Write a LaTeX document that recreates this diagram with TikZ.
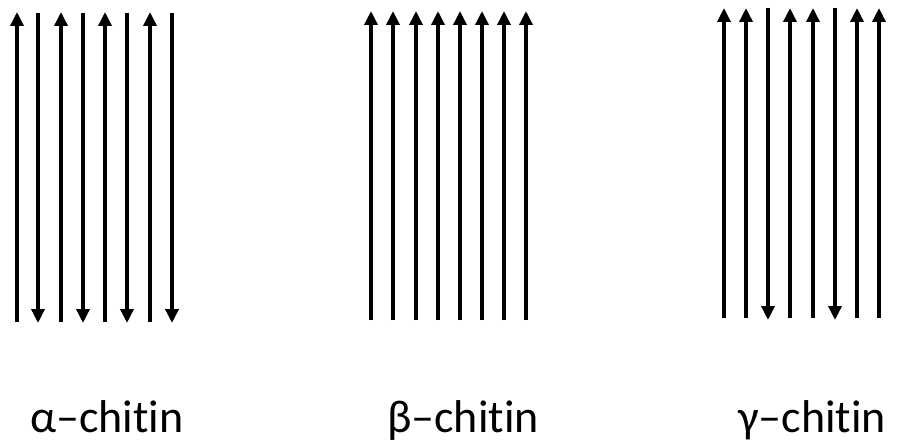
\documentclass[tikz,border=0pt]{standalone}
\usepackage{fontspec}
\setmainfont{Carlito}[Ligatures={NoCommon}]
\usetikzlibrary{arrows.meta}
\begin{document}
\begin{tikzpicture}[x=1pt,y=-1pt,
  chain/.style={line width=3.4pt},
  upchain/.style={chain,-{Triangle[length=14pt,width=13pt]}},
  downchain/.style={chain,-{Triangle[length=14pt,width=13pt]}},
  lbl/.style={font=\fontsize{46}{46}\selectfont, inner sep=0pt, anchor=base}]
\useasboundingbox (0,0) rectangle (899,446);
% alpha-chitin
\foreach \x [count=\i] in {17,61,105,150} {
  \coordinate (au\i b) at (\x,322); \coordinate (au\i t) at (\x,12);
  \draw[upchain] (au\i b) -- (au\i t);
}
\foreach \x [count=\i] in {38,83,127,172} {
  \coordinate (ad\i t) at (\x,13); \coordinate (ad\i b) at (\x,323);
  \draw[downchain] (ad\i t) -- (ad\i b);
}
% beta-chitin
\foreach \x [count=\i] in {371,393,416,438,460,482,504,526} {
  \coordinate (bu\i b) at (\x,320); \coordinate (bu\i t) at (\x,11);
  \draw[upchain] (bu\i b) -- (bu\i t);
}
% gamma-chitin
\foreach \x [count=\i] in {724,746,790,813,857,879} {
  \coordinate (gu\i b) at (\x,318); \coordinate (gu\i t) at (\x,8);
  \draw[upchain] (gu\i b) -- (gu\i t);
}
\foreach \x [count=\i] in {768,835} {
  \coordinate (gd\i t) at (\x,8); \coordinate (gd\i b) at (\x,320);
  \draw[downchain] (gd\i t) -- (gd\i b);
}
\node[lbl] (la) at (107,432) {α–chitin};
\node[lbl] (lb) at (463,432) {β–chitin};
\node[lbl] (lg) at (812,432) {γ–chitin};
\end{tikzpicture}
\end{document}
